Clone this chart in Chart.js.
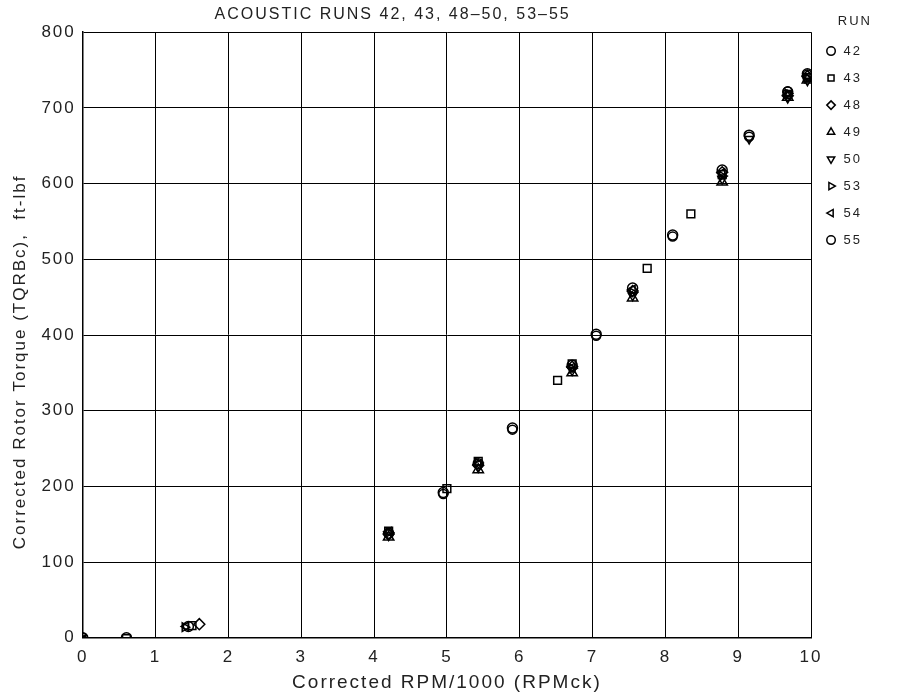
<!DOCTYPE html>
<html>
<head>
<meta charset="utf-8">
<script src="https://cdn.jsdelivr.net/npm/chart.js@4"></script>
<style>
  html, body { margin: 0; padding: 0; background: #fff; }
  #wrap { width: 909px; height: 694px; }
</style>
</head>
<body>
<div id="wrap"><canvas id="torqueChart"></canvas></div>
<script>
// run numbers shown in the legend
const runs = ['42', '43', '48', '49', '50', '53', '54', '55'];

// corrected RPM/1000 for each run
const rpm42 = [0, 0.6, 1.45, 4.2, 4.95, 5.43, 5.9, 6.72, 7.05, 7.55, 8.1, 8.78, 9.15, 9.68, 9.95];
const rpm43 = [0.6, 1.5, 4.2, 5.0, 5.43, 6.52, 6.72, 7.75, 8.35, 8.78, 9.68, 9.95];
const rpm48 = [1.6, 4.2, 5.43, 6.72, 7.55, 8.78, 9.68, 9.95];
const rpm49 = [4.2, 5.43, 6.72, 7.55, 8.78, 9.68, 9.95];
const rpm50 = [4.2, 5.43, 6.72, 7.55, 8.78, 9.15, 9.68, 9.95];
const rpm53 = [1.4, 4.2, 5.43, 6.72, 7.55, 8.78, 9.68, 9.95];
const rpm54 = [0, 1.42, 4.2, 5.43, 6.72, 7.55, 8.78, 9.68, 9.95];
const rpm55 = [0, 4.95, 5.9, 7.05, 8.1, 9.15, 9.68, 9.95];

// corrected rotor torque, ft-lbf
const tq42 = [0, 0, 15, 138, 192, 230, 277, 360, 401, 462, 532, 618, 664, 721, 745];
const tq43 = [-1, 16, 141, 197, 233, 340, 362, 488, 560, 612, 718, 740];
const tq48 = [18, 137, 228, 358, 458, 615, 716, 742];
const tq49 = [133, 222, 350, 449, 602, 714, 737];
const tq50 = [135, 225, 353, 452, 606, 659, 713, 736];
const tq53 = [14, 139, 231, 356, 456, 610, 719, 739];
const tq54 = [-2, 15, 140, 229, 357, 460, 614, 717, 741];
const tq55 = [0, 190, 275, 399, 530, 662, 722, 744];

const allRpm = [rpm42, rpm43, rpm48, rpm49, rpm50, rpm53, rpm54, rpm55];
const allTq = [tq42, tq43, tq48, tq49, tq50, tq53, tq54, tq55];

const markers = [
  { style: 'circle', rot: 0, r: 5 },
  { style: 'rect', rot: 0, r: 5.5 },
  { style: 'rectRot', rot: 0, r: 5.5 },
  { style: 'triangle', rot: 0, r: 6 },
  { style: 'triangle', rot: 180, r: 5 },
  { style: 'triangle', rot: 90, r: 5 },
  { style: 'triangle', rot: -90, r: 5 },
  { style: 'circle', rot: 0, r: 4.5 }
];

const datasets = runs.map(function (run, i) {
  return {
    label: run,
    data: allRpm[i].map(function (x, j) { return { x: x, y: allTq[i][j] }; }),
    pointStyle: markers[i].style,
    pointRotation: markers[i].rot,
    pointRadius: markers[i].r,
    pointBorderWidth: 1.5,
    borderColor: '#000',
    backgroundColor: 'rgba(255,255,255,0)',
    showLine: false
  };
});

// the plotter font is widely spaced
const spacing = {
  id: 'spacing',
  beforeUpdate: function (chart) { chart.ctx.letterSpacing = '2px'; },
  beforeDraw: function (chart) { chart.ctx.letterSpacing = '2px'; }
};

const FONT = 'Liberation Sans';
const nb = function (n) { return '\u00A0'.repeat(n); };

const ctx = document.getElementById('torqueChart').getContext('2d');
new Chart(ctx, {
  type: 'scatter',
  data: { datasets: datasets },
  plugins: [spacing],
  options: {
    responsive: true,
    maintainAspectRatio: false,
    animation: false,
    layout: { padding: { top: 2, right: 37, left: 10, bottom: 0 } },
    plugins: {
      title: {
        display: true,
        text: 'ACOUSTIC RUNS 42, 43, 48–50, 53–55' + nb(15),
        color: '#222',
        font: { family: FONT, size: 16, weight: 'normal' },
        padding: { top: 3, bottom: 8 }
      },
      legend: {
        position: 'right',
        align: 'start',
        title: {
          display: true,
          text: 'RUN',
          color: '#222',
          position: 'end',
          font: { family: FONT, size: 13 },
          padding: { top: 13, bottom: 0 }
        },
        labels: {
          usePointStyle: true,
          boxWidth: 12,
          boxHeight: 6,
          padding: 14,
          color: '#222',
          font: { family: FONT, size: 13 }
        }
      },
      tooltip: { enabled: false }
    },
    scales: {
      x: {
        type: 'linear',
        min: 0,
        max: 10,
        ticks: {
          stepSize: 1,
          color: '#222',
          padding: 9,
          font: { family: FONT, size: 17 }
        },
        grid: { color: '#000', lineWidth: 1, drawTicks: false },
        border: { color: '#000', width: 1.5 },
        title: {
          display: true,
          text: 'Corrected RPM/1000 (RPMck)',
          color: '#222',
          font: { family: FONT, size: 19 },
          padding: { top: -5, bottom: 0 }
        }
      },
      y: {
        min: 0,
        max: 800,
        ticks: {
          stepSize: 100,
          color: '#222',
          padding: 7,
          font: { family: FONT, size: 17 }
        },
        grid: { color: '#000', lineWidth: 1, drawTicks: false },
        border: { color: '#000', width: 1.5 },
        title: {
          display: true,
          text: 'Corrected Rotor Torque (TQRBc),  ft-lbf' + nb(8),
          color: '#222',
          font: { family: FONT, size: 17 },
          padding: { top: 0, bottom: 4 }
        }
      }
    }
  }
});
</script>
</body>
</html>
